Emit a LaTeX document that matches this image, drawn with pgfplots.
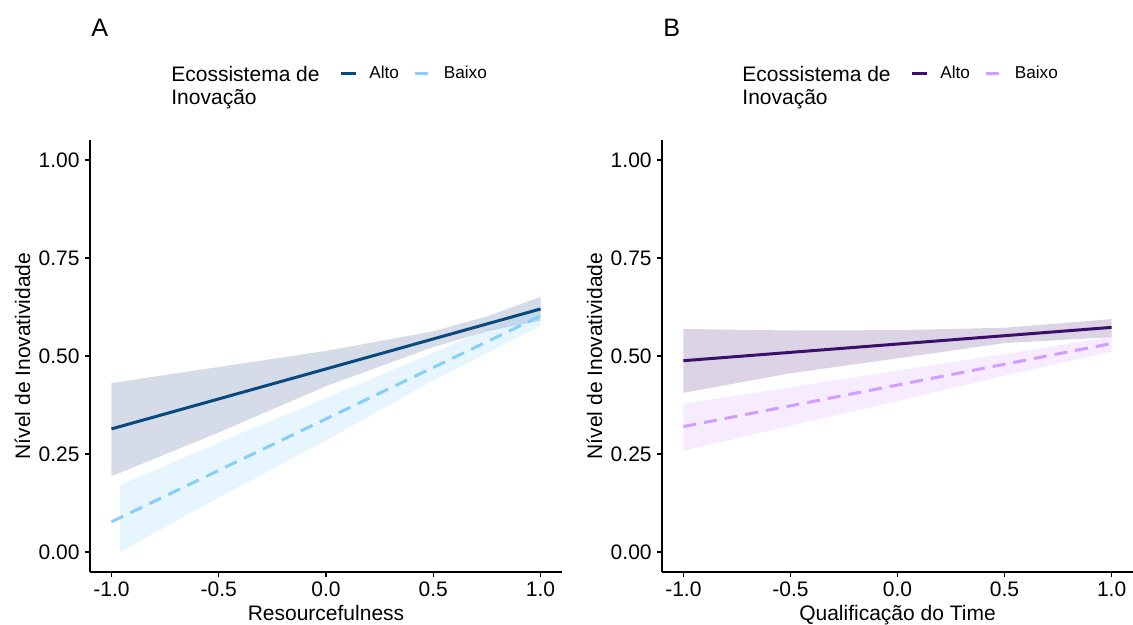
\documentclass[border=0pt]{standalone}
\usepackage{fontspec}
\setmainfont{Liberation Sans}
\usepackage{pgfplots}
\pgfplotsset{compat=1.18}

\definecolor{altoA}{HTML}{08497E}
\definecolor{altoAfill}{HTML}{16377A}
\definecolor{baixoA}{HTML}{87CEFA}
\definecolor{altoB}{HTML}{3B0F6B}
\definecolor{baixoB}{HTML}{D39CFF}

\pgfplotsset{
  painel/.style={
    scale only axis, width=236pt, height=216pt,
    xmin=-1.1, xmax=1.1, ymin=-0.051, ymax=1.051,
    axis lines*=left, axis line style={line width=0.6pt, black},
    tick align=outside, major tick length=2.5pt,
    tick style={line width=0.6pt, black},
    xtick={-1,-0.5,0,0.5,1}, xticklabels={-1.0,-0.5,0.0,0.5,1.0},
    ytick={0,0.25,0.5,0.75,1}, yticklabels={0.00,0.25,0.50,0.75,1.00},
    ticklabel style={font=\fontsize{10.5}{12}\selectfont},
    xticklabel style={inner sep=0pt, yshift=-2pt},
    yticklabel style={inner sep=0pt, xshift=-2.5pt},
    label style={font=\fontsize{10.5}{12}\selectfont},
    xlabel style={at={(axis description cs:0.5,0)}, anchor=base, yshift=-24.5pt, inner sep=0pt},
    ylabel style={at={(axis description cs:-0.127,0.5)}, anchor=base, inner sep=0pt},
    ylabel={Nível de Inovatividade},
    legend columns=2,
    legend image code/.code={\draw[##1, line width=1.4pt] (0pt,0pt) -- (7.5pt,0pt);},
    legend style={anchor=west, draw=none, fill=none, inner sep=0pt,
      font=\fontsize{8.6}{10}\selectfont,
      nodes={inner sep=0pt, anchor=west},
      /tikz/every odd column/.append style={column sep=6pt},
      /tikz/every even column/.append style={column sep=7.5pt}},
  },
  banda/.style={draw=none, fill=#1, fill opacity=0.18, forget plot},
  linha/.style={#1, line width=1.5pt, no marks},
}

\begin{document}
\begin{tikzpicture}
\useasboundingbox (0,0) rectangle (566.5pt,312.5pt);

% painel A
\begin{axis}[painel, at={(45pt,26.5pt)}, anchor=south west,
  xlabel={Resourcefulness},
  legend style={at={(0.528,1.153)}}]
\addplot[banda=altoAfill] coordinates {
  (-1,0.193) (-0.5,0.305) (0,0.423) (0.5,0.523) (0.75,0.563) (1,0.590)
  (1,0.651) (0.75,0.601) (0.5,0.563) (0,0.513) (-0.5,0.472) (-1,0.431)
} -- cycle;
\addplot[banda=baixoA, fill opacity=0.2] coordinates {
  (-0.96,0.0) (-0.5,0.139) (0,0.284) (0.5,0.438) (1,0.576)
  (1,0.628) (0.5,0.508) (0,0.393) (-0.5,0.279) (-0.96,0.171)
} -- cycle;
\addplot[linha=altoA] coordinates {(-1,0.314) (1,0.620)};
\addlegendentry{Alto}
\addplot[linha=baixoA, dash pattern=on 6.5pt off 4pt] coordinates {(-1,0.077) (1,0.602)};
\addlegendentry{Baixo}
\end{axis}

% painel B
\begin{axis}[painel, at={(331pt,26.5pt)}, anchor=south west, width=235.5pt,
  xlabel={Qualificação do Time},
  legend style={at={(0.527,1.153)}}]
\addplot[banda=altoB] coordinates {
  (-1,0.406) (-0.5,0.456) (0,0.494) (0.5,0.533) (1,0.548)
  (1,0.594) (0.5,0.572) (0,0.566) (-0.5,0.565) (-1,0.569)
} -- cycle;
\addplot[banda=baixoB, fill opacity=0.2] coordinates {
  (-1,0.258) (-0.5,0.322) (0,0.385) (0.5,0.450) (1,0.511)
  (1,0.549) (0.5,0.505) (0,0.463) (-0.5,0.420) (-1,0.378)
} -- cycle;
\addplot[linha=altoB] coordinates {(-1,0.488) (1,0.573)};
\addlegendentry{Alto}
\addplot[linha=baixoB, dash pattern=on 6.5pt off 4pt] coordinates {(-1,0.320) (1,0.532)};
\addlegendentry{Baixo}
\end{axis}

% letras dos painéis e títulos das legendas
\node[anchor=base west, inner sep=0pt, font=\fontsize{12.6}{15}\selectfont] at (45.5pt,294pt) {A};
\node[anchor=base west, inner sep=0pt, font=\fontsize{12.6}{15}\selectfont] at (331.5pt,294pt) {B};
\node[anchor=base west, inner sep=0pt, align=left, font=\fontsize{10.5}{11.5}\selectfont] at (85.5pt,260pt) {Ecossistema de\\Inovação};
\node[anchor=base west, inner sep=0pt, align=left, font=\fontsize{10.5}{11.5}\selectfont] at (371pt,260pt) {Ecossistema de\\Inovação};
\end{tikzpicture}
\end{document}
